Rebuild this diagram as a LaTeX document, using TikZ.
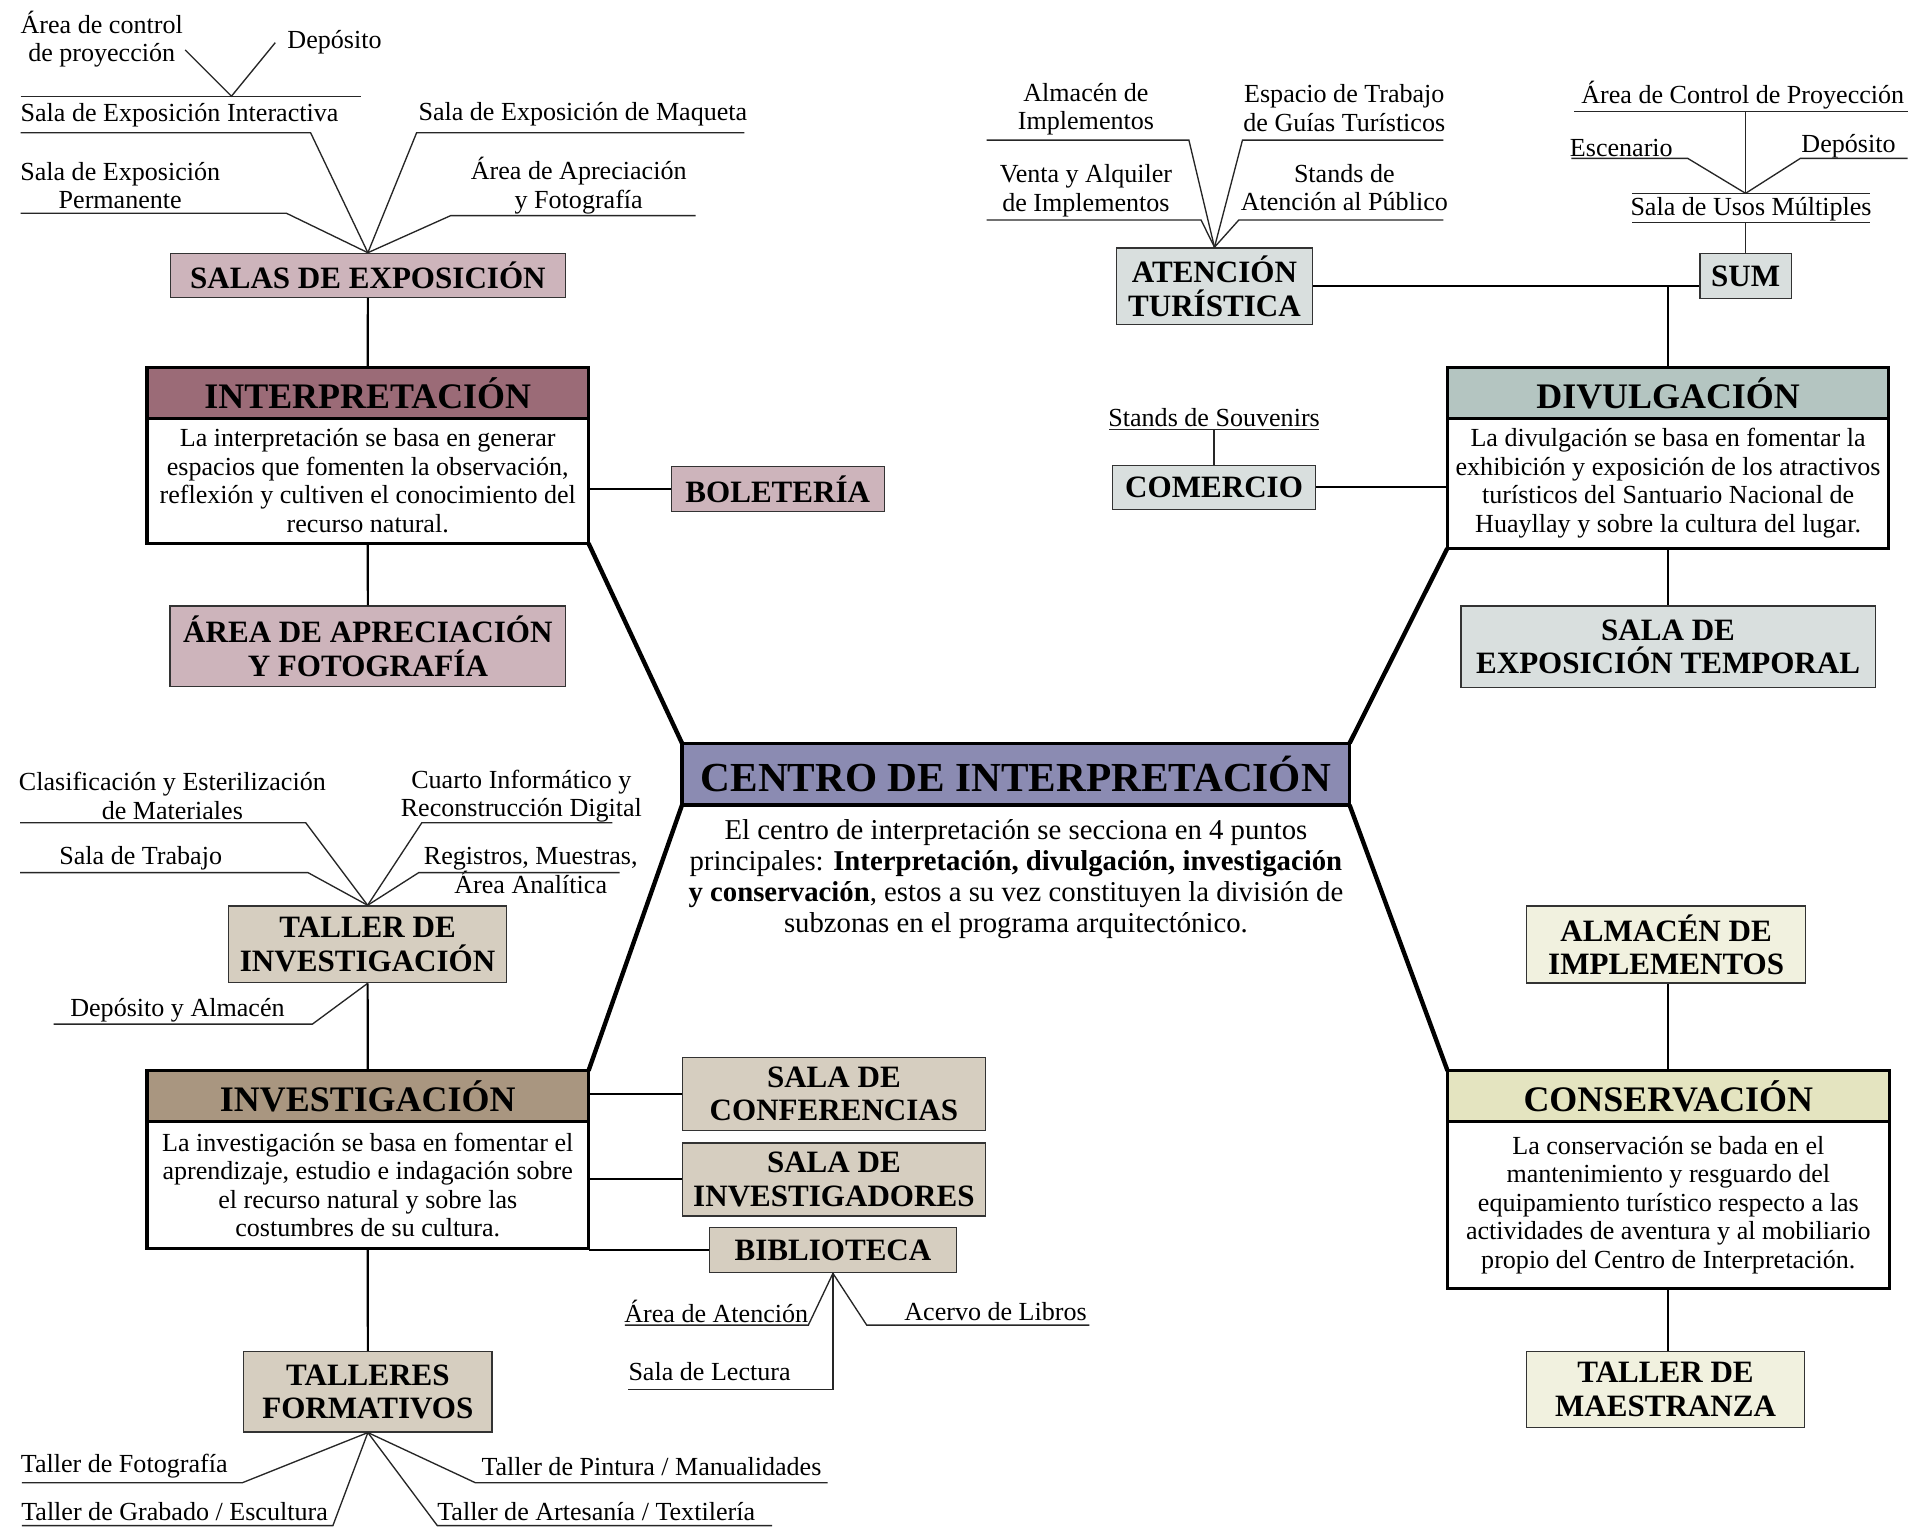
\documentclass[tikz,border=0pt]{standalone}
\usepackage{fontspec}
\setmainfont{Liberation Serif}
\usetikzlibrary{calc}

\definecolor{cInt}{HTML}{9B6B77}
\definecolor{cIntS}{HTML}{CDB4BB}
\definecolor{cCen}{HTML}{8B8BB2}
\definecolor{cDiv}{HTML}{B4C5C1}
\definecolor{cDivS}{HTML}{D9DFDE}
\definecolor{cInv}{HTML}{A99680}
\definecolor{cInvS}{HTML}{D6CEC0}
\definecolor{cCon}{HTML}{E4E4C0}
\definecolor{cConS}{HTML}{F1F1DF}

\begin{document}
\begin{tikzpicture}[x=1pt,y=-1pt,
  lbl/.style={inner sep=0pt, align=center, font=\fontsize{21.4}{23.4}\selectfont},
  subbox/.style={draw=black!80, line width=1.1pt, inner sep=0pt, align=center,
    font=\fontsize{25.5}{27.4}\selectfont\bfseries},
  headbox/.style={draw, line width=2.6pt, outer sep=0pt, inner sep=0pt,
    minimum width=362.5pt, minimum height=41.5pt, font=\fontsize{29.5}{32}\selectfont\bfseries},
  bodybox/.style={draw, line width=2.6pt, outer sep=0pt, inner sep=0pt, fill=white,
    minimum width=362.5pt, align=center, anchor=north, font=\fontsize{21.4}{23.4}\selectfont},
  link/.style={line width=3.6pt},
  conn/.style={line width=1.8pt},
  leg/.style={line width=1.1pt, black!85},
]
\fill[white] (0,0) rectangle (1568,1253);
\useasboundingbox (0,0) rectangle (1568,1253);

% ---------------- centre ----------------
\node[draw, line width=2.6pt, outer sep=0pt, inner sep=0pt, fill=cCen,
  minimum width=548pt, minimum height=50.7pt, font=\fontsize{33.9}{36}\selectfont\bfseries]
  (cen) at (833.9,635.5) {CENTRO DE INTERPRETACIÓN};
\node[inner sep=0pt, align=center, font=\fontsize{23.6}{25.5}\selectfont] (cdesc) at (834,722)
  {El centro de interpretación se secciona en 4 puntos\\
   principales: \textbf{Interpretación, divulgación, investigación}\\
   \textbf{y conservación}, estos a su vez constituyen la división de\\
   subzonas en el programa arquitectónico.};

% ---------------- interpretación ----------------
\node[headbox, fill=cInt] (ih) at (301.9,322.6) {INTERPRETACIÓN};
\node[bodybox, minimum height=102.7pt] (ib) at (ih.south)
  {La interpretación se basa en generar\\espacios que fomenten la observación,\\reflexión y cultiven el conocimiento del\\recurso natural.};

\node[subbox, fill=cIntS, minimum width=324pt, minimum height=36pt] (sal) at (302,226) {SALAS DE EXPOSICIÓN};
\node[subbox, fill=cIntS, minimum width=175pt, minimum height=37pt] (bol) at (638.5,401.5) {BOLETERÍA};
\node[subbox, fill=cIntS, minimum width=325pt, minimum height=66pt] (aaf) at (302,530.5) {ÁREA DE APRECIACIÓN\\Y FOTOGRAFÍA};

\draw[conn] (sal.south) -- (ih.north);
\draw[conn] (bol.west) -- (bol.west -| ib.east);
\draw[conn] (ib.south) -- (aaf.north);

% sub-spaces of the exhibition rooms
\node[lbl] (tAc)  at (83.5,32)   {Área de control\\de proyección};
\node[lbl] (tDep) at (274.6,35)  {Depósito};
\node[lbl] (tSei) at (147.4,94.4) {Sala de Exposición Interactiva};
\node[lbl] (tSem) at (478.5,94)  {Sala de Exposición de Maqueta};
\node[lbl] (tSep) at (98.7,152.3) {Sala de Exposición\\Permanente};
\node[lbl] (tAaf) at (475.1,152.3) {Área de Apreciación\\y Fotografía};

\coordinate (vA) at (190,79);
\coordinate (vAl) at (152,41);
\coordinate (vAr) at (226,35);
\coordinate (hA1) at (17,79);   \coordinate (hA2) at (296,79);
\coordinate (sI1) at (17,109);  \coordinate (sI2) at (255,109);
\coordinate (sM1) at (611,109); \coordinate (sM2) at (342,109);
\coordinate (sP1) at (17,175);  \coordinate (sP2) at (235,175);
\coordinate (sF1) at (571,177); \coordinate (sF2) at (370,177);
\draw[leg] (hA1) -- (hA2);
\draw[leg] (vAl) -- (vA) -- (vAr);
\draw[leg] (sI1) -- (sI2) -- (sal.north);
\draw[leg] (sM1) -- (sM2) -- (sal.north);
\draw[leg] (sP1) -- (sP2) -- (sal.north);
\draw[leg] (sF1) -- (sF2) -- (sal.north);

% ---------------- divulgación ----------------
\node[headbox, fill=cDiv] (dh) at (1369.4,322.6) {DIVULGACIÓN};
\node[bodybox, minimum height=106.8pt] (db) at (dh.south)
  {La divulgación se basa en fomentar la\\exhibición y exposición de los atractivos\\turísticos del Santuario Nacional de\\Huayllay y sobre la cultura del lugar.};

\node[subbox, fill=cDivS, minimum width=161pt, minimum height=63pt] (at) at (997,235) {ATENCIÓN\\TURÍSTICA};
\node[subbox, fill=cDivS, minimum width=75pt, minimum height=37pt] (sum) at (1433,226.5) {SUM};
\node[subbox, fill=cDivS, minimum width=167pt, minimum height=36pt] (com) at (996.7,400) {COMERCIO};
\node[subbox, fill=cDivS, minimum width=340pt, minimum height=67pt] (tem) at (1369.4,531) {SALA DE\\EXPOSICIÓN TEMPORAL};

\draw[conn] (at.east) -- (at.east -| sum.west);
\draw[conn] (dh.north) -- (dh.north |- at.east);
\draw[conn] (com.east) -- (com.east -| db.west);
\draw[conn] (db.south) -- (tem.north);

% tourist attention
\node[lbl] (tAlm) at (891.5,89.6)  {Almacén de\\Implementos};
\node[lbl] (tEsp) at (1103.6,88.8) {Espacio de Trabajo\\de Guías Turísticos};
\node[lbl] (tVen) at (891.5,156.6) {Venta y Alquiler\\de Implementos};
\node[lbl] (tSta) at (1103.6,154)  {Stands de\\Atención al Público};
\coordinate (aA1) at (810,115);    \coordinate (aA2) at (976,115);
\coordinate (aE1) at (1185,115);   \coordinate (aE2) at (1020,115);
\coordinate (aV1) at (810,180.6);  \coordinate (aV2) at (986,180.6);
\coordinate (aS1) at (1185,180.6); \coordinate (aS2) at (1017,180.6);
\draw[leg] (aA1) -- (aA2) -- (at.north);
\draw[leg] (aE1) -- (aE2) -- (at.north);
\draw[leg] (aV1) -- (aV2) -- (at.north);
\draw[leg] (aS1) -- (aS2) -- (at.north);

% multipurpose room
\node[lbl] (tAcp)  at (1430.7,78)   {Área de Control de Proyección};
\node[lbl] (tEsc)  at (1331,121.8)  {Escenario};
\node[lbl] (tDep2) at (1517.5,120)  {Depósito};
\node[lbl] (tSum)  at (1437.5,171.5) {Sala de Usos Múltiples};
\coordinate (uC1) at (1292.5,91.7); \coordinate (uC2) at (1566,91.7);
\coordinate (uTop) at (1433,91.7);
\coordinate (uV) at (1433,158.7);
\coordinate (uE1) at (1290,130);    \coordinate (uE2) at (1385.5,130);
\coordinate (uD1) at (1566,130);    \coordinate (uD2) at (1478,130);
\coordinate (uL1) at (1340,158.7);  \coordinate (uL2) at (1535,158.7);
\coordinate (uB1) at (1340,182.8);  \coordinate (uB2) at (1535,182.8);
\coordinate (uBot) at (1433,182.8);
\draw[leg] (uC1) -- (uC2);
\draw[leg] (uTop) -- (uV);
\draw[leg] (uE1) -- (uE2) -- (uV);
\draw[leg] (uD1) -- (uD2) -- (uV);
\draw[leg] (uL1) -- (uL2);
\draw[leg] (uB1) -- (uB2);
\draw[leg] (uBot) -- (sum.north);

% souvenirs
\node[lbl] (tSou) at (996.7,342.4) {Stands de Souvenirs};
\coordinate (cS1) at (910.5,352.5); \coordinate (cS2) at (1083,352.5);
\draw[leg] (cS1) -- (cS2);
\draw[leg] (com.north) -- (com.north |- cS1);

% ---------------- investigación ----------------
\node[headbox, fill=cInv] (vh) at (301.9,899.7) {INVESTIGACIÓN};
\node[bodybox, minimum height=104.6pt] (vb) at (vh.south)
  {La investigación se basa en fomentar el\\aprendizaje, estudio e indagación sobre\\el recurso natural y sobre las\\costumbres de su cultura.};

\node[subbox, fill=cInvS, minimum width=228pt, minimum height=63pt] (tin) at (301.8,775.2) {TALLER DE\\INVESTIGACIÓN};
\node[subbox, fill=cInvS, minimum width=249pt, minimum height=60pt] (conf) at (684.6,898.1) {SALA DE\\CONFERENCIAS};
\node[subbox, fill=cInvS, minimum width=249pt, minimum height=60pt] (sinv) at (684.6,968.2) {SALA DE\\INVESTIGADORES};
\node[subbox, fill=cInvS, minimum width=203pt, minimum height=37pt] (bib) at (683.8,1026.3) {BIBLIOTECA};
\node[subbox, fill=cInvS, minimum width=204pt, minimum height=66pt] (tf) at (302,1142.5) {TALLERES\\FORMATIVOS};

\draw[conn] (tin.south) -- (vh.north);
\draw[conn] (conf.west) -- (conf.west -| vh.east);
\draw[conn] (sinv.west) -- (sinv.west -| vb.east);
\draw[conn] (bib.west) -- (bib.west -| vb.east);
\draw[conn] (vb.south) -- (tf.north);

% research workshop
\node[lbl] (tCla) at (141.5,653.4) {Clasificación y Esterilización\\de Materiales};
\node[lbl] (tCua) at (428,653.4)   {Cuarto Informático y\\Reconstrucción Digital};
\node[lbl] (tSdt) at (115.5,704.6) {Sala de Trabajo};
\node[lbl] (tReg) at (435.7,714.6) {Registros, Muestras,\\Área Analítica};
\node[lbl] (tDya) at (145.7,829.2) {Depósito y Almacén};
\coordinate (iC1) at (16.5,675.4);  \coordinate (iC2) at (251,675.4);
\coordinate (iQ1) at (502.8,675.4); \coordinate (iQ2) at (346.3,675.4);
\coordinate (iT1) at (16.5,716.4);  \coordinate (iT2) at (252.9,716.4);
\coordinate (iR1) at (508.7,716.4); \coordinate (iR2) at (343.7,716.4);
\coordinate (iD1) at (44,840.7);    \coordinate (iD2) at (256.5,840.7);
\draw[leg] (iC1) -- (iC2) -- (tin.north);
\draw[leg] (iQ1) -- (iQ2) -- (tin.north);
\draw[leg] (iT1) -- (iT2) -- (tin.north);
\draw[leg] (iR1) -- (iR2) -- (tin.north);
\draw[leg] (iD1) -- (iD2) -- (tin.south);

% library
\node[lbl] (tAda) at (588,1076.8)   {Área de Atención};
\node[lbl] (tAdl) at (817.3,1076.8) {Acervo de Libros};
\node[lbl] (tSdl) at (582.5,1126)   {Sala de Lectura};
\coordinate (bA1) at (513,1087.8);   \coordinate (bA2) at (663.6,1087.8);
\coordinate (bL1) at (894.3,1087.8); \coordinate (bL2) at (711.5,1087.8);
\coordinate (bS1) at (515.8,1140.5);
\draw[leg] (bA1) -- (bA2) -- (bib.south);
\draw[leg] (bL1) -- (bL2) -- (bib.south);
\draw[leg] (bib.south) -- (bib.south |- bS1) -- (bS1);

% training workshops
\node[lbl] (tTf) at (102,1204)    {Taller de Fotografía};
\node[lbl] (tTp) at (534.8,1204)  {Taller de Pintura / Manualidades};
\node[lbl] (tTg) at (143.3,1240.5) {Taller de Grabado / Escultura};
\node[lbl] (tTa) at (489.4,1240.5) {Taller de Artesanía / Textilería};
\coordinate (fF1) at (17.9,1217.2);  \coordinate (fF2) at (199,1217.2);
\coordinate (fP1) at (679.5,1217.2); \coordinate (fP2) at (390.2,1217.2);
\coordinate (fG1) at (17.9,1252.4);  \coordinate (fG2) at (273.3,1252.4);
\coordinate (fA1) at (633.8,1252.4); \coordinate (fA2) at (359,1252.4);
\draw[leg] (fF1) -- (fF2) -- (tf.south);
\draw[leg] (fP1) -- (fP2) -- (tf.south);
\draw[leg] (fG1) -- (fG2) -- (tf.south);
\draw[leg] (fA1) -- (fA2) -- (tf.south);

% ---------------- conservación ----------------
\node[headbox, fill=cCon] (ch) at (1369.6,899.8) {CONSERVACIÓN};
\node[bodybox, minimum height=137pt] (cb) at (ch.south)
  {La conservación se bada en el\\mantenimiento y resguardo del\\equipamiento turístico respecto a las\\actividades de aventura y al mobiliario\\propio del Centro de Interpretación.};

\node[subbox, fill=cConS, minimum width=229pt, minimum height=63pt] (alm) at (1367.8,775.4) {ALMACÉN DE\\IMPLEMENTOS};
\node[subbox, fill=cConS, minimum width=228pt, minimum height=62pt] (mae) at (1367.3,1140.7) {TALLER DE\\MAESTRANZA};
\draw[conn] (ch.north) -- (ch.north |- alm.south);
\draw[conn] (cb.south) -- (cb.south |- mae.north);

% ---------------- main spokes ----------------
\draw[link] (ib.south east) -- (cen.north west);
\draw[link] (cen.north east) -- (db.south west);
\draw[link] (cen.south west) -- (vh.north east);
\draw[link] (cen.south east) -- (ch.north west);
\end{tikzpicture}
\end{document}
